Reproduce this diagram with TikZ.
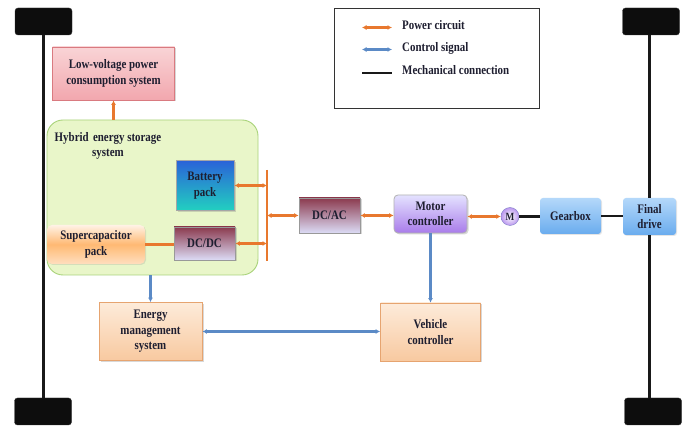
\documentclass[tikz,border=0pt]{standalone}
\usepackage{fontspec}
\setmainfont{Liberation Serif}[FakeStretch=0.84]
\usetikzlibrary{arrows.meta,shadows}
\definecolor{pwc}{HTML}{E8782E}
\definecolor{ctc}{HTML}{5B8AC6}
\definecolor{txt}{HTML}{1E1E30}
\definecolor{dcTop}{HTML}{8B3A4E}
\definecolor{dcBot}{HTML}{DCDCF6}
\definecolor{hessFill}{HTML}{E9F6C9}
\definecolor{hessLine}{HTML}{A9D37A}
\definecolor{batTop}{HTML}{2A62D8}
\definecolor{batBot}{HTML}{22D0C0}
\definecolor{gbTop}{HTML}{B4D8FA}
\definecolor{gbBot}{HTML}{6AACEE}
\definecolor{lvTop}{HTML}{F9D4D6}
\definecolor{lvBot}{HTML}{F2A7AE}
\definecolor{lvLine}{HTML}{D97A80}
\definecolor{emsTop}{HTML}{FDEBDA}
\definecolor{emsBot}{HTML}{F8C9A0}
\definecolor{emsLine}{HTML}{E6A470}
\definecolor{mcTop}{HTML}{E4E2FF}
\definecolor{mcBot}{HTML}{A97CEA}
\tikzset{
  lbl/.style={font=\bfseries\fontsize{13}{15.5}\selectfont, text=txt, align=center, inner sep=0pt},
  blk/.style={lbl, draw, line width=0.8pt, drop shadow={opacity=0.3, shadow xshift=1.5pt, shadow yshift=-1.5pt}},
  pw/.style={draw=pwc, line width=2.4pt, >={Latex[length=4.5pt,width=5pt]}},
  ct/.style={draw=ctc, line width=2.4pt, >={Latex[length=4.5pt,width=5pt]}},
  mech/.style={draw=black!90, line width=2.6pt},
  wheel/.style={fill=black!95, draw=black!80, rounded corners=3pt, minimum width=57pt, minimum height=27pt, inner sep=0pt},
  dcbox/.style={blk, draw=gray!80, top color=dcTop, bottom color=dcBot},
  bluebox/.style={lbl, rounded corners=3pt, top color=gbTop, bottom color=gbBot, drop shadow={opacity=0.2, shadow xshift=1pt, shadow yshift=-1pt}},
  ebox/.style={blk, draw=emsLine, top color=emsTop, bottom color=emsBot},
}
\begin{document}
\begin{tikzpicture}[x=1pt,y=-1pt]
\useasboundingbox[fill=white] (0,0) rectangle (683,427);
% wheels
\node[wheel] (wtl) at (43.5,21.5) {};
\node[wheel] (wbl) at (43,411.5) {};
\node[wheel] (wtr) at (651,21.5) {};
\node[wheel] (wbr) at (653,411.5) {};
% legend
\node[draw=black!80, line width=0.9pt, minimum width=205pt, minimum height=100pt, inner sep=0pt] (leg) at (436.5,58) {};
\coordinate (l1a) at (362,27.5); \coordinate (l1b) at (392,27.5);
\coordinate (l2a) at (362,49.5); \coordinate (l2b) at (392,49.5);
\coordinate (l3a) at (362,73); \coordinate (l3b) at (392,73);
\draw[pw,<->] (l1a) -- (l1b);
\draw[ct,<->] (l2a) -- (l2b);
\draw[mech] (l3a) -- (l3b);
\node[lbl, anchor=west] (t1) at (402,25) {Power circuit};
\node[lbl, anchor=west] (t2) at (402,48) {Control signal};
\node[lbl, anchor=west] (t3) at (402,70) {Mechanical connection};
% low voltage
\node[blk, draw=lvLine, top color=lvTop, bottom color=lvBot, minimum width=122pt, minimum height=53pt] (lv) at (113.5,73.5) {Low-voltage power\\consumption system};
% HESS
\node[draw=hessLine, line width=0.9pt, fill=hessFill, rounded corners=16pt, minimum width=211pt, minimum height=155pt, inner sep=0pt] (hess) at (152.5,197.5) {};
\node[lbl] (htitle) at (108,146) {Hybrid\,\,energy storage\\system};
% inside
\node[blk, draw=gray!70, top color=batTop, bottom color=batBot, minimum width=58pt, minimum height=50pt] (bat) at (205,185.5) {Battery\\pack};
\node[dcbox, minimum width=61pt, minimum height=33pt] (dcdc) at (204.5,243.5) {DC/DC};
\node[lbl, rounded corners=5pt, top color=orange!10, bottom color=orange!25, middle color=orange!55, minimum width=98pt, minimum height=39pt, drop shadow={opacity=0.2, shadow xshift=1pt, shadow yshift=-1pt}] (sc) at (96,244.5) {Supercapacitor\\pack};
% bus
\coordinate (busT) at (267,170);
\coordinate (busB) at (267,261);
\draw[pw] (busT) -- (busB);
\draw[pw,<->] (bat.east) -- (bat.east -| busT);
\draw[pw,<->] (dcdc.east) -- (dcdc.east -| busT);
\draw[pw] (sc.east) -- (sc.east -| dcdc.west);
% DC/AC and motor controller
\node[dcbox, minimum width=61pt, minimum height=35pt] (dcac) at (329.5,215.5) {DC/AC};
\node[blk, draw=gray!60, rounded corners=4pt, top color=mcTop, bottom color=mcBot, minimum width=73pt, minimum height=38pt] (mc) at (430.5,214) {Motor\\controller};
\draw[pw,<->] (dcac.west) -- (dcac.west -| busT);
\draw[pw,<->] (dcac.east) -- (dcac.east -| mc.west);
\node[lbl, circle, draw=blue!40!gray!70, inner sep=0pt, minimum size=18pt, inner color=white, outer color=mcBot!80, font=\bfseries\fontsize{11}{12}\selectfont] (m) at (510,216.5) {M};
\draw[pw,<->] (mc.east |- m.west) -- (m.west);
\node[bluebox, minimum width=61pt, minimum height=36pt] (gb) at (570.5,216) {Gearbox};
\node[bluebox, minimum width=53pt, minimum height=37pt] (fd) at (649.5,216.5) {Final\\drive};
\draw[mech] (m.east) -- (m.east -| gb.west);
\draw[mech] (gb.east) -- (gb.east -| fd.west);
% axles
\draw[mech] (wtl.south) -- (wbl.north -| wtl.south);
\draw[mech] (wtr.south -| fd.north) -- (fd.north);
\draw[mech] (fd.south) -- (wbr.north -| fd.south);
% EMS and VC
\node[ebox, minimum width=103pt, minimum height=58pt] (ems) at (150.5,331.5) {Energy\\management\\system};
\node[ebox, minimum width=100pt, minimum height=58pt] (vc) at (430.5,332) {Vehicle\\controller};
\draw[ct,->] (ems.north |- hess.south) -- (ems.north);
\draw[ct,->] (mc.south -| vc.north) -- (vc.north);
\draw[ct,<->] (ems.east) -- (ems.east -| vc.west);
% arrow to low-voltage
\draw[pw,->] (lv.south |- hess.north) -- (lv.south);
\end{tikzpicture}
\end{document}
